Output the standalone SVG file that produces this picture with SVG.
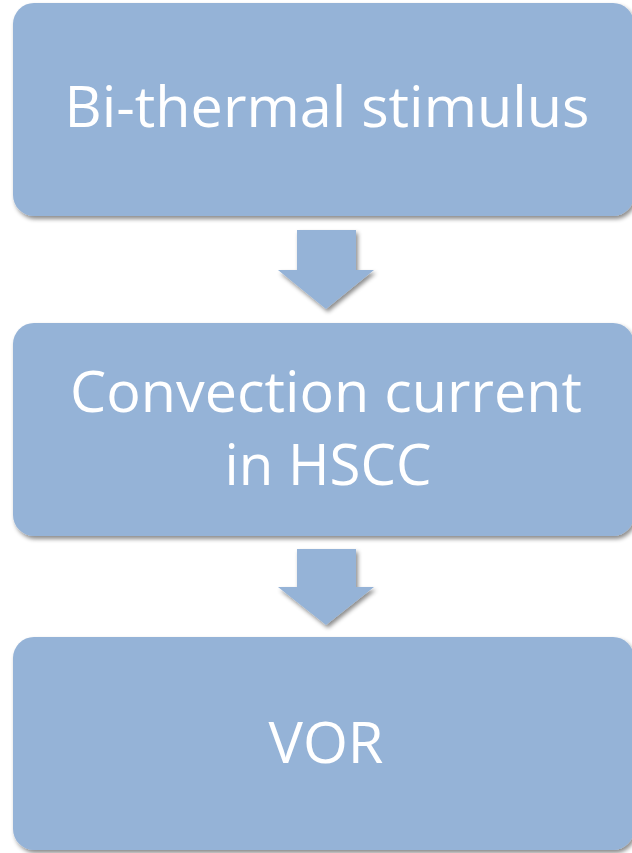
<svg xmlns="http://www.w3.org/2000/svg" width="632" height="853" viewBox="0 0 632 853">
  <defs>
    <filter id="sh" x="-10%" y="-10%" width="120%" height="130%">
      <feDropShadow dx="2" dy="3" stdDeviation="2.2" flood-color="#000" flood-opacity="0.45"/>
    </filter>
  </defs>
  <style>
    .box { fill: #95B3D7; filter: url(#sh); }
    .arr { fill: #95B3D7; filter: url(#sh); }
    .lbl { fill: #ffffff; font-family: "Open Sans", "Liberation Sans", sans-serif; font-size: 57px; text-anchor: middle; }
  </style>
  <rect width="632" height="853" fill="#ffffff"/>
  <g id="connectors">
    <polygon class="arr" points="297,230 356,230 356,270 374,270 326,309 278,270 297,270"/>
    <polygon class="arr" points="297,549 356,549 356,587 374,587 326,625 278,587 297,587"/>
  </g>
  <g id="node-stimulus">
    <rect class="box" x="13" y="3" width="621" height="213" rx="21" ry="21"/>
    <text class="lbl" x="327" y="127" textLength="525" lengthAdjust="spacingAndGlyphs">Bi-thermal stimulus</text>
  </g>
  <g id="node-convection">
    <rect class="box" x="13" y="323" width="621" height="213" rx="21" ry="21"/>
    <text class="lbl" x="326" y="412" textLength="512" lengthAdjust="spacingAndGlyphs">Convection current</text>
    <text class="lbl" x="328" y="485" textLength="207" lengthAdjust="spacingAndGlyphs">in HSCC</text>
  </g>
  <g id="node-vor">
    <rect class="box" x="13" y="637" width="621" height="213" rx="21" ry="21"/>
    <text class="lbl" x="326" y="763" textLength="115" lengthAdjust="spacingAndGlyphs">VOR</text>
  </g>
</svg>
